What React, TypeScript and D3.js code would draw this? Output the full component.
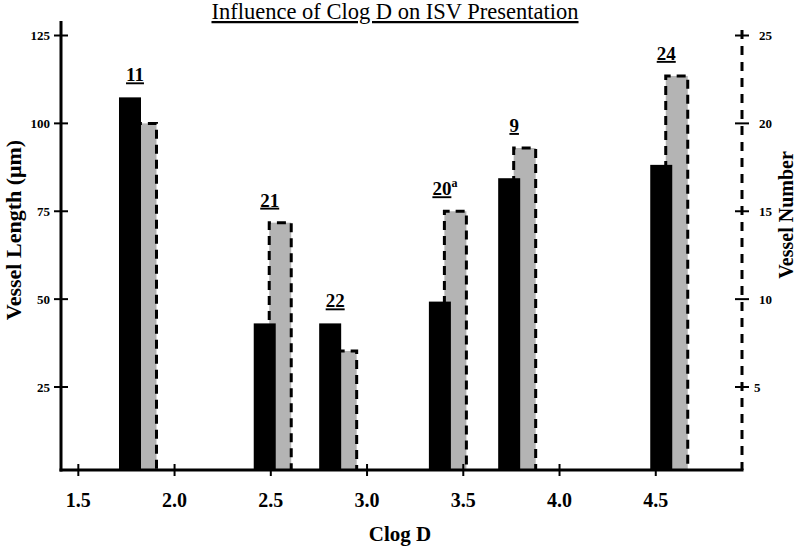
import React from 'react';
import * as d3 from 'd3';

// Data
const compounds = ['11', '21', '22', '20', '9', '24'];
const compoundSup = ['', '', '', 'a', '', ''];
const clogD = [1.81, 2.51, 2.85, 3.42, 3.78, 4.57];
const vesselLength = [107.4, 43.1, 43.1, 49.3, 84.4, 88.2];
const vesselNumber = [20.0, 14.35, 7.05, 15.0, 18.6, 22.7];
const xTicks = [1.5, 2.0, 2.5, 3.0, 3.5, 4.0, 4.5];
const leftTicks = [25, 50, 75, 100, 125];
const rightTicks = [5, 10, 15, 20, 25];

const W = 800;
const H = 546;
const FONT = '"Liberation Serif", "Times New Roman", serif';

export default function App() {
  const x = d3.scaleLinear().domain([1.41, 4.948]).range([61, 742]);
  const yL = d3.scaleLinear().domain([0, 125]).range([474.9, 35.5]);
  const yR = d3.scaleLinear().domain([0, 25]).range([474.9, 35.5]);
  const axisY = 470;
  const leftX = 61;
  const rightX = 742;
  const barW = 22;

  return (
    <svg
      width={W}
      height={H}
      style={{ position: 'absolute', left: 0, top: 0, background: '#fff' }}
      fontFamily={FONT}
    >
      <rect x={0} y={0} width={W} height={H} fill="#fff" />
      {/* Title */}
      <text
        x={395}
        y={19}
        textAnchor="middle"
        fontSize={22.5}
        style={{ textDecoration: 'underline' }}
      >
        Influence of Clog D on ISV Presentation
      </text>

      {/* Bars */}
      {compounds.map((c, i) => {
        const cx = x(clogD[i]);
        const gy = yR(vesselNumber[i]);
        const by = yL(vesselLength[i]);
        const gx = cx - 3.5;
        return (
          <g key={c + i}>
            <rect x={gx} y={gy} width={barW} height={axisY - gy} fill="#b4b4b4" />
            <path
              d={`M${gx},${axisY} L${gx},${gy} L${gx + barW},${gy} L${gx + barW},${axisY}`}
              fill="none"
              stroke="#000"
              strokeWidth={3}
              strokeDasharray="9,6"
            />
            <rect x={cx - 19} y={by} width={barW} height={axisY - by} fill="#000" />
            <text
              x={cx - 3}
              y={Math.min(gy, by) - 16}
              textAnchor="middle"
              fontSize={19}
              fontWeight="bold"
            >
              <tspan style={{ textDecoration: 'underline' }}>{c}</tspan>
              {compoundSup[i] ? (
                <tspan fontSize={12} dy={-8}>
                  {compoundSup[i]}
                </tspan>
              ) : null}
            </text>
          </g>
        );
      })}

      {/* Left axis */}
      <line x1={leftX} y1={21} x2={leftX} y2={axisY + 1.5} stroke="#000" strokeWidth={3} />
      {leftTicks.map((t) => (
        <g key={'l' + t}>
          <line x1={leftX - 7} x2={leftX + 7} y1={yL(t)} y2={yL(t)} stroke="#000" strokeWidth={2} />
          <text x={50} y={yL(t) + 4.5} textAnchor="end" fontSize={13} fontWeight="bold">
            {t}
          </text>
        </g>
      ))}

      {/* Right axis */}
      <line
        x1={rightX}
        y1={30}
        x2={rightX}
        y2={axisY}
        stroke="#000"
        strokeWidth={3}
        strokeDasharray="9,7"
      />
      {rightTicks.map((t) => (
        <g key={'r' + t}>
          <line x1={rightX - 7} x2={rightX + 7} y1={yR(t)} y2={yR(t)} stroke="#000" strokeWidth={2} />
          <text x={t < 10 ? 754 : 759} y={yR(t) + 4.5} textAnchor="start" fontSize={13} fontWeight="bold">
            {t}
          </text>
        </g>
      ))}

      {/* X axis */}
      <line x1={leftX - 1.5} x2={rightX + 1.5} y1={axisY} y2={axisY} stroke="#000" strokeWidth={3} />
      {xTicks.map((t) => (
        <g key={'x' + t}>
          <line x1={x(t)} x2={x(t)} y1={axisY - 6} y2={axisY + 6} stroke="#000" strokeWidth={2} />
          <text x={x(t)} y={507} textAnchor="middle" fontSize={20} fontWeight="bold">
            {t.toFixed(1)}
          </text>
        </g>
      ))}

      {/* Axis titles */}
      <text x={400} y={541} textAnchor="middle" fontSize={21} fontWeight="bold">
        Clog D
      </text>
      <text
        transform="translate(21,230) rotate(-90)"
        textAnchor="middle"
        fontSize={22}
        fontWeight="bold"
      >
        Vessel Length (μm)
      </text>
      <text
        transform="translate(793,215) rotate(-90)"
        textAnchor="middle"
        fontSize={20}
        fontWeight="bold"
      >
        Vessel Number
      </text>
    </svg>
  );
}
